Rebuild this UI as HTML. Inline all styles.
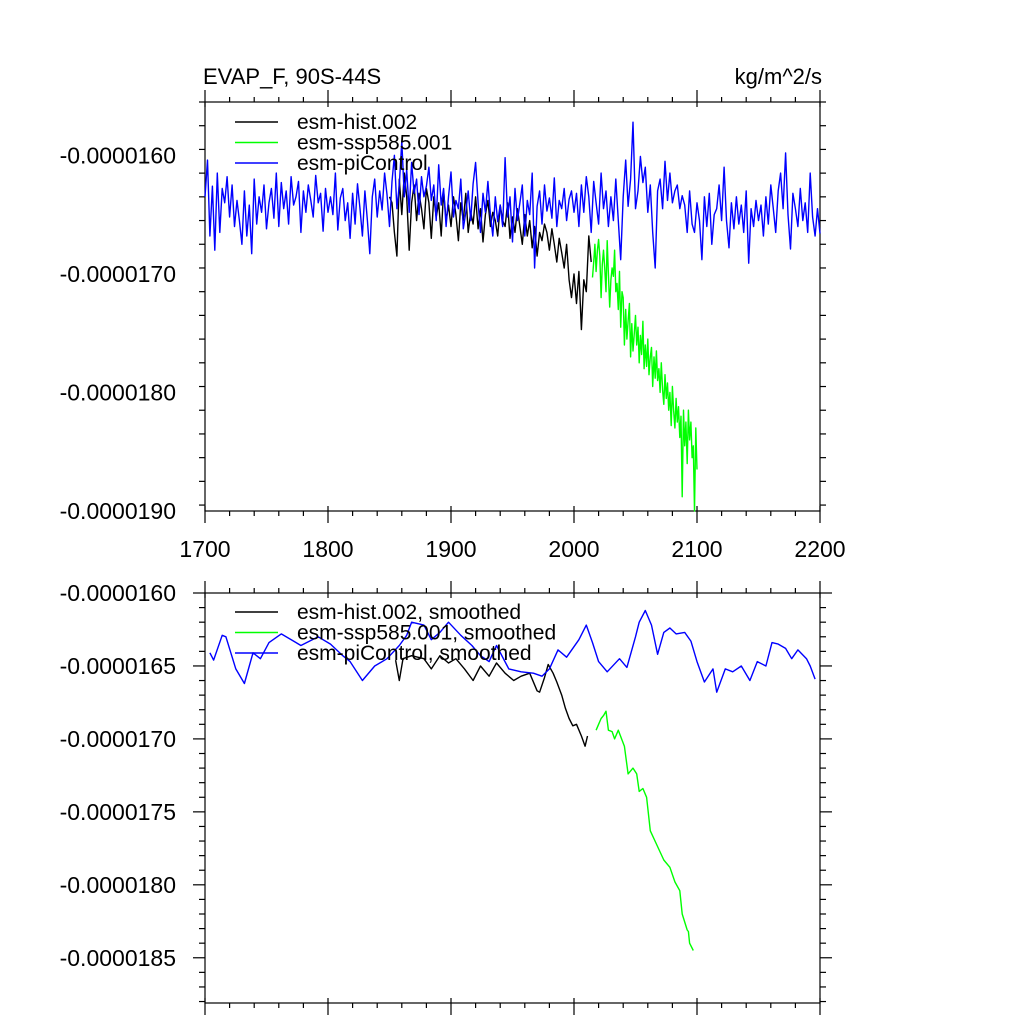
<!DOCTYPE html>
<html><head><meta charset="utf-8"><style>
html,body{margin:0;padding:0;background:#fff;}
svg{display:block;font-family:"Liberation Sans",sans-serif;}
</style></head><body>
<svg id="chart" width="1024" height="1024" viewBox="0 0 1024 1024">
<text x="203" y="84" font-size="22">EVAP_F, 90S-44S</text>
<text x="822" y="84" font-size="22" text-anchor="end">kg/m^2/s</text>
<g id="top"></g>
<g id="bot"></g>
</svg>
<script>
const xTickYears=[1700,1800,1900,2000,2100,2200];
const topYTicks=[160,170,180,190];
const topYLabels=["-0.0000160","-0.0000170","-0.0000180","-0.0000190"];
const botYTicks=[160,165,170,175,180,185];
const botYLabels=["-0.0000160","-0.0000165","-0.0000170","-0.0000175","-0.0000180","-0.0000185"];
// raw series (magnitude in 1e-7 kg/m^2/s, values are negative)
const piYears0=1700, piStep=2;
const piValues=[163.5,160.4,166.8,162.6,168.0,161.5,166.5,162.8,164.0,161.8,165.2,162.5,166.0,163.8,165.5,167.5,163.0,166.8,164.2,168.3,162.0,165.8,163.5,164.8,162.5,166.2,164.0,162.8,165.3,161.5,166.0,
162.3,164.5,163.0,165.8,161.8,164.2,163.5,162.2,166.5,163.0,164.8,162.5,163.8,165.2,161.7,164.0,163.2,166.4,162.8,164.8,163.5,165.0,161.5,166.3,163.6,162.8,165.5,164.0,167.0,163.2,
165.8,162.4,164.5,166.8,163.0,165.5,168.3,163.5,162.0,165.2,163.0,164.6,161.5,163.3,166.0,162.2,160.0,164.5,162.5,158.8,163.5,161.2,164.8,160.6,163.2,162.0,165.0,161.8,163.5,162.6,
161.0,163.8,162.5,165.5,160.8,164.2,162.8,166.0,163.5,161.4,165.2,163.8,164.5,162.0,166.2,164.8,163.0,165.5,162.4,160.6,164.0,166.5,163.2,164.8,162.2,165.0,166.8,163.5,165.6,164.2,
166.0,160.2,165.2,163.5,167.3,162.8,165.5,164.0,162.5,166.8,163.8,165.0,161.5,169.5,164.3,163.0,165.8,162.5,164.7,163.6,165.3,161.9,166.0,163.8,164.5,162.8,165.5,163.7,163.0,164.8,
163.2,166.0,162.5,164.8,161.8,163.5,166.5,162.2,164.0,165.8,161.5,164.5,163.0,166.0,163.5,165.5,162.0,165.5,168.8,163.5,160.4,164.3,162.0,157.2,164.5,163.0,160.1,162.3,161.0,164.8,
162.5,166.5,169.5,163.0,162.0,164.5,160.5,163.8,161.5,164.0,163.0,162.5,164.5,163.4,164.2,166.5,163.0,165.8,166.5,164.0,165.5,168.8,163.5,166.0,163.2,167.5,165.0,164.5,162.5,165.5,
161.0,165.5,167.8,164.0,166.2,163.5,165.8,164.2,166.5,163.0,169.1,164.5,166.0,163.8,165.5,164.2,166.8,163.5,165.8,162.5,164.5,166.5,163.0,161.5,164.5,159.8,165.0,167.9,163.2,164.5,
166.0,162.8,165.5,164.0,166.5,161.5,165.2,166.8,164.5,166.6];
const histYear0=1850, histStep=2;
const histValues=[163.5,164.0,166.5,168.5,162.0,165.0,161.5,163.5,168.0,164.0,162.5,165.5,163.2,164.5,166.2,162.8,164.0,167.0,163.5,165.2,164.0,166.8,163.0,165.5,164.2,
166.0,163.5,165.0,167.2,164.0,165.5,163.2,166.5,164.8,165.8,163.5,166.2,164.5,167.3,165.0,163.8,166.0,164.8,165.5,166.8,164.2,165.5,166.0,164.0,167.0,
165.2,166.5,164.5,166.0,167.5,165.0,166.8,165.5,167.8,166.0,168.5,166.5,167.2,165.8,166.5,168.0,166.2,167.5,169.0,167.0,168.2,169.5,167.5,170.5,172.0,
170.0,172.5,169.8,174.7,170.5,171.5,166.8,169.0];
const sspYear0=2015, sspStep=1;
const sspValues=[170.3,169.0,167.5,169.8,168.0,167.1,168.5,172.0,169.2,168.0,
169.6,171.5,167.2,170.0,172.8,170.5,169.5,170.2,168.0,171.5,
170.8,173.0,169.8,174.5,171.5,172.0,176.0,173.0,175.5,174.0,
172.5,177.0,174.2,176.5,175.0,173.5,176.0,174.5,177.5,175.2,
176.8,174.0,178.0,176.0,177.8,175.5,178.5,177.0,176.2,179.5,
177.0,178.8,176.5,179.0,178.0,180.0,177.5,179.8,181.0,178.5,
180.5,179.2,181.5,180.0,182.8,179.5,181.5,183.0,180.5,182.5,
181.2,183.8,182.0,188.8,181.5,184.5,182.5,186.0,181.5,184.0,
182.5,185.5,184.5,190.0,183.0,186.5];
// smoothed series
const piSmYears=[1704,1707,1714,1717,1725,1732,1739,1745,1752,1762,1772,1778,1792,1802,1812,1818,1828,1838,1848,1858,1864,1868,1878,1884,1891,1898,1908,1917,1924,1931,1937,1947,1957,1967,1974,1980,1987,1994,2004,2010,2015,2020,2027,2037,2043,2050,2053,2058,2063,2068,2073,2078,2083,2090,2095,2100,2106,2113,2116,2123,2129,2136,2143,2149,2156,2161,2166,2172,2177,2182,2189,2192,2196];
const piSmValues=[164.1,164.6,162.9,163.0,165.2,166.2,164.1,164.5,163.4,162.8,163.3,163.6,163.0,163.5,164.3,164.7,166.0,165.0,164.5,163.6,162.9,162.0,162.2,163.2,162.7,162.0,162.9,163.6,164.3,164.7,163.6,165.2,165.4,165.5,165.7,165.2,163.9,164.4,163.2,162.2,163.4,164.7,165.4,164.5,165.1,163.0,162.0,161.2,162.2,164.2,162.7,162.4,162.8,162.7,163.3,164.7,166.1,165.2,166.8,165.2,165.4,165.0,166.0,164.7,165.0,163.4,163.5,163.8,164.5,163.9,164.5,165.0,165.9];
const histSmYears=[1855,1858,1861,1868,1878,1884,1891,1898,1904,1911,1918,1924,1931,1937,1944,1951,1957,1964,1970,1972,1976,1979,1983,1986,1990,1993,1996,1999,2002,2006,2009,2011];
const histSmValues=[164.6,166.0,164.5,164.3,164.5,165.2,164.3,164.8,164.5,165.2,166.0,165.0,165.7,164.8,165.5,166.0,165.7,165.5,166.7,166.8,165.8,164.9,165.5,166.1,167.0,167.9,168.6,169.1,169.0,169.8,170.5,169.8];
const sspSmYears=[2018,2020,2022,2024,2026,2028,2031,2033,2036,2041,2044,2048,2051,2053,2056,2059,2062,2067,2073,2078,2082,2086,2088,2092,2093,2094,2097];
const sspSmValues=[169.4,169.0,168.6,168.4,168.1,169.4,169.5,170.0,169.4,170.5,172.4,172.0,172.4,173.6,173.4,174.0,176.3,177.2,178.3,178.8,179.8,180.4,182.0,183.1,183.2,184.0,184.5];

const NS="http://www.w3.org/2000/svg";
const X0=205,X1=820;
function xs(y){return X0+(y-1700)*(X1-X0)/500;}
function mk(tag,attrs,parent){const e=document.createElementNS(NS,tag);for(const k in attrs)e.setAttribute(k,attrs[k]);parent.appendChild(e);return e;}

function panel(g,top,bot,vTop,vBot,yMajor,yLabels,minorStep,showX,series,legend,legY){
  const ys=v=>top+(v-vTop)*(bot-top)/(vBot-vTop);
  const ax=mk('g',{stroke:'#000','stroke-width':1.2,fill:'none'},g);
  
  
  mk('rect',{x:X0,y:top,width:X1-X0,height:bot-top},ax);
  for(let yr=1700;yr<=2200;yr+=20){
    const maj=(yr%100===0);const x=xs(yr);
    if(maj){mk('line',{x1:x,y1:bot-5,x2:x,y2:bot+12},ax);mk('line',{x1:x,y1:top+5,x2:x,y2:top-12},ax);}
    else{mk('line',{x1:x,y1:bot,x2:x,y2:bot+5},ax);mk('line',{x1:x,y1:top,x2:x,y2:top-5},ax);}
  }
  for(let v=vTop;v<=vBot+1e-6;v+=minorStep){
    const vv=Math.round(v*100)/100;const maj=yMajor.some(m=>Math.abs(m-vv)<1e-6);
    const y=ys(vv);const L=maj?12:6;
    mk('line',{x1:X0,y1:y,x2:X0-L,y2:y},ax);
    mk('line',{x1:X1,y1:y,x2:X1+L,y2:y},ax);
  }
  yMajor.forEach((m,i)=>{
    const t=mk('text',{x:176,y:ys(m)+8,'font-size':23,'text-anchor':'end'},g);
    
    
    t.textContent=yLabels[i];
  });
  if(showX){xTickYears.forEach(yr=>{
    const t=mk('text',{x:xs(yr),y:bot+46,'font-size':23,'text-anchor':'middle'},g);
    
    
    t.textContent=String(yr);
  });}
  series.forEach(s=>{
    const pts=s.years.map((yr,i)=>xs(yr).toFixed(1)+','+ys(s.vals[i]).toFixed(1)).join(' ');
    const p=mk('polyline',{points:pts,fill:'none',stroke:s.color,'stroke-width':1.4,'stroke-linejoin':'round'},g);
    
    
  });
  legend.forEach((l,i)=>{
    const y=legY+i*20.5;
    const ln=mk('line',{x1:235,y1:y,x2:278,y2:y,stroke:l.color,'stroke-width':1.4},g);
    
    
    const t=mk('text',{x:297,y:y+7,'font-size':21},g);
    
    
    t.textContent=l.label;
  });
}
const piYears=piValues.map((_,i)=>piYears0+i*piStep);
const histYears=histValues.map((_,i)=>histYear0+i*histStep);
const sspYears=sspValues.map((_,i)=>sspYear0+i*sspStep);
panel(document.getElementById('top'),102,511,155.5,190,topYTicks,topYLabels,2,true,
 [{name:'hist-line',years:histYears,vals:histValues,color:'#000'},
  {name:'ssp585-line',years:sspYears,vals:sspValues,color:'#00ff00'},
  {name:'picontrol-line',years:piYears,vals:piValues,color:'#0000ff'}],
 [{label:'esm-hist.002',color:'#000'},{label:'esm-ssp585.001',color:'#00ff00'},{label:'esm-piControl',color:'#0000ff'}],122);
panel(document.getElementById('bot'),593,1003,160,188.1,botYTicks,botYLabels,1,false,
 [{name:'hist-smoothed-line',years:histSmYears,vals:histSmValues,color:'#000'},
  {name:'ssp585-smoothed-line',years:sspSmYears,vals:sspSmValues,color:'#00ff00'},
  {name:'picontrol-smoothed-line',years:piSmYears,vals:piSmValues,color:'#0000ff'}],
 [{label:'esm-hist.002, smoothed',color:'#000'},{label:'esm-ssp585.001, smoothed',color:'#00ff00'},{label:'esm-piControl, smoothed',color:'#0000ff'}],612);
</script>
</body></html>
